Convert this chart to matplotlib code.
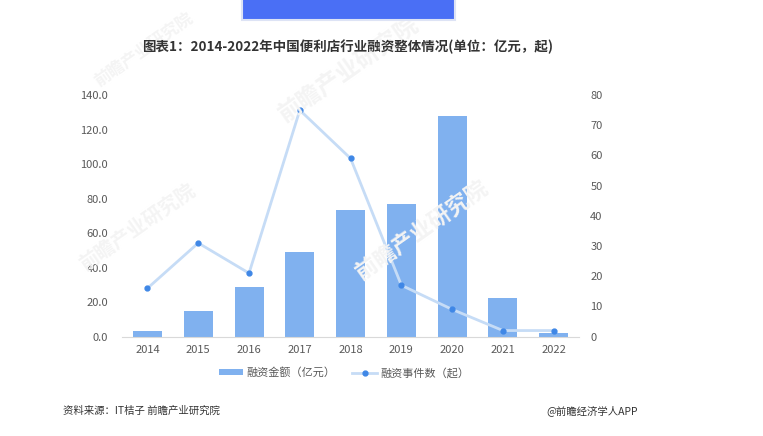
import matplotlib.pyplot as plt
import numpy as np
from matplotlib.patches import Rectangle

plt.rcParams['font.family'] = ['Noto Sans CJK SC', 'DejaVu Sans']

years = ['2014', '2015', '2016', '2017', '2018', '2019', '2020', '2021', '2022']
amount = [3.5, 14.9, 29.0, 49.1, 73.2, 76.7, 127.7, 22.6, 2.1]   # 亿元
events = [16, 31, 21, 75, 59, 17, 9, 2, 2]                         # 起

title = '图表1：2014-2022年中国便利店行业融资整体情况(单位：亿元，起)'
bar_label = '融资金额（亿元）'
line_label = '融资事件数（起）'
source = '资料来源：IT桔子 前瞻产业研究院'
brand = '@前瞻经济学人APP'

bar_color = '#80b1ef'
line_color = '#c6dcf6'
dot_color = '#3f87e6'
tick_color = '#595959'

fig = plt.figure(figsize=(7.63, 4.36), dpi=100)
ax = fig.add_axes([0.160, 0.228, 0.599, 0.554])
ax2 = ax.twinx()

x = np.arange(len(years))
ax.bar(x, amount, width=0.57, color=bar_color, zorder=2, label=bar_label)
ax2.plot(x, events, color=line_color, lw=2, marker='o', ms=3.5,
         mfc=dot_color, mec=dot_color, zorder=3, label=line_label)

ax.set_xlim(-0.5, len(years) - 0.5)
ax.set_ylim(0, 140)
ax.set_yticks(np.arange(0, 141, 20))
ax.set_yticklabels([f'{v:.1f}' for v in np.arange(0, 141, 20)])
ax2.set_ylim(0, 80)
ax2.set_yticks(np.arange(0, 81, 10))
ax.set_xticks(x)
ax.set_xticklabels(years)

for a in (ax, ax2):
    for s in a.spines.values():
        s.set_visible(False)
    a.tick_params(length=0, labelsize=8, labelcolor=tick_color)
ax.spines['bottom'].set_visible(True)
ax.spines['bottom'].set_color('#d9d9d9')
ax.tick_params(axis='x', pad=6)
ax.tick_params(axis='y', pad=10)
ax2.tick_params(axis='y', pad=8)

# faint watermark
for (wx, wy, fs) in [(0.36, 0.72, 17), (0.10, 0.38, 14), (0.46, 0.36, 16), (0.12, 0.80, 12)]:
    fig.text(wx, wy, '前瞻产业研究院', fontsize=fs, color='#f4f4f4', rotation=35,
             fontweight='bold', zorder=0)

handles = [ax.patches[0], ax2.lines[0]]
fig.legend(handles, [bar_label, line_label], loc='center', bbox_to_anchor=(0.451, 0.145),
           ncol=2, frameon=False, fontsize=8, labelcolor=tick_color,
           handlelength=2.2, handleheight=0.5, columnspacing=1.5, handletextpad=0.3)

fig.text(0.456, 0.892, title, ha='center', va='center', fontsize=9.7,
         fontweight='bold', color='#333333')
fig.text(0.083, 0.057, source, ha='left', va='center', fontsize=7.5, color='#333333')
fig.text(0.836, 0.059, brand, ha='right', va='center', fontsize=7.5, color='#333333')

# blue banner at the top
fig.patches.append(Rectangle((0.317, 0.955), 0.279, 0.06, transform=fig.transFigure,
                             facecolor='#4a6ff5', edgecolor='#dde3f5', lw=1.5, zorder=5))

fig.savefig('out.png', dpi=100)
